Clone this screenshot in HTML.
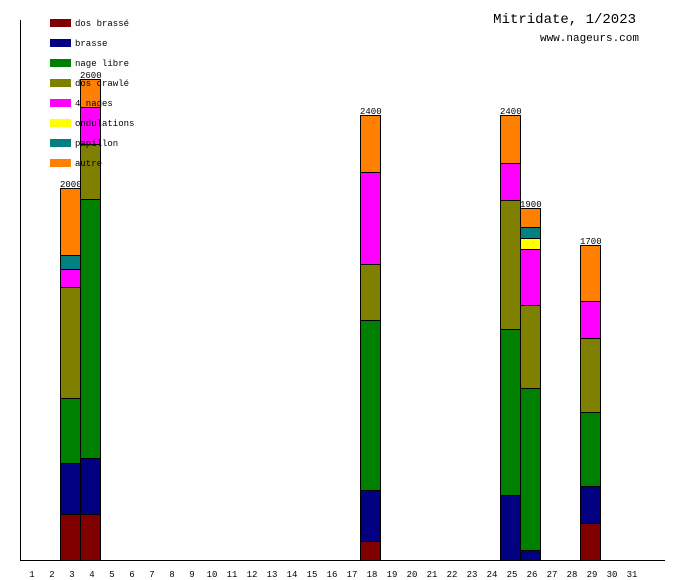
<!DOCTYPE html>
<html><head><meta charset="utf-8"><style>
html,body{margin:0;padding:0;background:#fff;}
svg{display:block;}
text{font-family:"Liberation Mono","DejaVu Sans Mono",monospace;fill:#000;}
</style></head><body>
<svg width="680" height="580" xmlns="http://www.w3.org/2000/svg">
<g stroke="#000" stroke-width="1">
<!-- day 3 -->
<rect x="60.5" y="514.5" width="20" height="46" fill="#800000"/>
<rect x="60.5" y="463.5" width="20" height="51" fill="#000080"/>
<rect x="60.5" y="398.5" width="20" height="65" fill="#008000"/>
<rect x="60.5" y="287.5" width="20" height="111" fill="#808000"/>
<rect x="60.5" y="269.5" width="20" height="18" fill="#ff00ff"/>
<rect x="60.5" y="255.5" width="20" height="14" fill="#008080"/>
<rect x="60.5" y="188.5" width="20" height="67" fill="#ff8000"/>
<!-- day 4 -->
<rect x="80.5" y="514.5" width="20" height="46" fill="#800000"/>
<rect x="80.5" y="458.5" width="20" height="56" fill="#000080"/>
<rect x="80.5" y="199.5" width="20" height="259" fill="#008000"/>
<rect x="80.5" y="144.5" width="20" height="55" fill="#808000"/>
<rect x="80.5" y="107.5" width="20" height="37" fill="#ff00ff"/>
<rect x="80.5" y="79.5" width="20" height="28" fill="#ff8000"/>
<!-- day 18 -->
<rect x="360.5" y="541.5" width="20" height="19" fill="#800000"/>
<rect x="360.5" y="490.5" width="20" height="51" fill="#000080"/>
<rect x="360.5" y="320.5" width="20" height="170" fill="#008000"/>
<rect x="360.5" y="264.5" width="20" height="56" fill="#808000"/>
<rect x="360.5" y="172.5" width="20" height="92" fill="#ff00ff"/>
<rect x="360.5" y="115.5" width="20" height="57" fill="#ff8000"/>
<!-- day 25 -->
<rect x="500.5" y="495.5" width="20" height="65" fill="#000080"/>
<rect x="500.5" y="329.5" width="20" height="166" fill="#008000"/>
<rect x="500.5" y="200.5" width="20" height="129" fill="#808000"/>
<rect x="500.5" y="163.5" width="20" height="37" fill="#ff00ff"/>
<rect x="500.5" y="115.5" width="20" height="48" fill="#ff8000"/>
<!-- day 26 -->
<rect x="520.5" y="550.5" width="20" height="10" fill="#000080"/>
<rect x="520.5" y="388.5" width="20" height="162" fill="#008000"/>
<rect x="520.5" y="305.5" width="20" height="83" fill="#808000"/>
<rect x="520.5" y="249.5" width="20" height="56" fill="#ff00ff"/>
<rect x="520.5" y="238.5" width="20" height="11" fill="#ffff00"/>
<rect x="520.5" y="227.5" width="20" height="11" fill="#008080"/>
<rect x="520.5" y="208.5" width="20" height="19" fill="#ff8000"/>
<!-- day 29 -->
<rect x="580.5" y="523.5" width="20" height="37" fill="#800000"/>
<rect x="580.5" y="486.5" width="20" height="37" fill="#000080"/>
<rect x="580.5" y="412.5" width="20" height="74" fill="#008000"/>
<rect x="580.5" y="338.5" width="20" height="74" fill="#808000"/>
<rect x="580.5" y="301.5" width="20" height="37" fill="#ff00ff"/>
<rect x="580.5" y="245.5" width="20" height="56" fill="#ff8000"/>
</g>
<line x1="20.5" y1="20" x2="20.5" y2="561" stroke="#000"/>
<line x1="20" y1="560.5" x2="665" y2="560.5" stroke="#000"/>
<g font-size="9">
<text x="60" y="187">2000</text>
<text x="80" y="78">2600</text>
<text x="360" y="114">2400</text>
<text x="500" y="114">2400</text>
<text x="520" y="207">1900</text>
<text x="580" y="244">1700</text>
</g>
<g font-size="9" text-anchor="middle">
<text x="32" y="577">1</text><text x="52" y="577">2</text><text x="72" y="577">3</text><text x="92" y="577">4</text><text x="112" y="577">5</text><text x="132" y="577">6</text><text x="152" y="577">7</text><text x="172" y="577">8</text><text x="192" y="577">9</text><text x="212" y="577">10</text><text x="232" y="577">11</text><text x="252" y="577">12</text><text x="272" y="577">13</text><text x="292" y="577">14</text><text x="312" y="577">15</text><text x="332" y="577">16</text><text x="352" y="577">17</text><text x="372" y="577">18</text><text x="392" y="577">19</text><text x="412" y="577">20</text><text x="432" y="577">21</text><text x="452" y="577">22</text><text x="472" y="577">23</text><text x="492" y="577">24</text><text x="512" y="577">25</text><text x="532" y="577">26</text><text x="552" y="577">27</text><text x="572" y="577">28</text><text x="592" y="577">29</text><text x="612" y="577">30</text><text x="632" y="577">31</text>
</g>
<g>
<rect x="50" y="19" width="21" height="8" fill="#800000"/>
<rect x="50" y="39" width="21" height="8" fill="#000080"/>
<rect x="50" y="59" width="21" height="8" fill="#008000"/>
<rect x="50" y="79" width="21" height="8" fill="#808000"/>
<rect x="50" y="99" width="21" height="8" fill="#ff00ff"/>
<rect x="50" y="119" width="21" height="8" fill="#ffff00"/>
<rect x="50" y="139" width="21" height="8" fill="#008080"/>
<rect x="50" y="159" width="21" height="8" fill="#ff8000"/>
</g>
<g font-size="9">
<text x="75" y="26">dos brassé</text>
<text x="75" y="46">brasse</text>
<text x="75" y="66">nage libre</text>
<text x="75" y="86">dos crawlé</text>
<text x="75" y="106">4 nages</text>
<text x="75" y="126">ondulations</text>
<text x="75" y="146">papillon</text>
<text x="75" y="166">autre</text>
</g>
<text x="636" y="23" font-size="14" text-anchor="end">Mitridate, 1/2023</text>
<text x="639" y="41" font-size="11" text-anchor="end">www.nageurs.com</text>
</svg>
</body></html>
